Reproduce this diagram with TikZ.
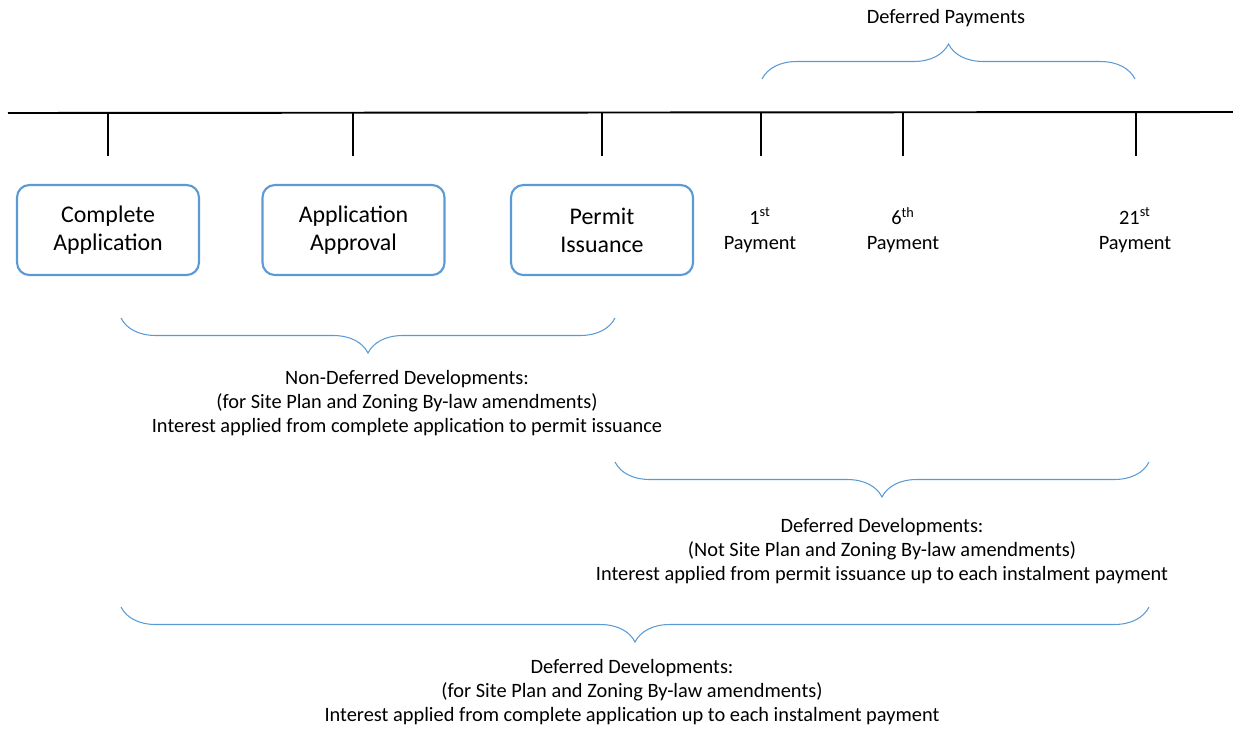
\documentclass[tikz,border=0pt]{standalone}
\usepackage{fontspec}
\setmainfont{Carlito}
\usepackage{tikz}
\usetikzlibrary{positioning, decorations.pathreplacing, arrows.meta}
\definecolor{msblue}{RGB}{91,155,213}

\begin{document}
\begin{tikzpicture}[x=0.02cm, y=-0.02cm,
    box/.style={draw=msblue, line width=1.2pt, rounded corners=7pt, minimum width=3.64cm, minimum height=1.8cm, align=center, font=\fontsize{13.6}{16}\selectfont},
    lbl/.style={align=center, font=\fontsize{11.6}{14}\selectfont},
    note/.style={align=center, font=\fontsize{11.6}{13.6}\selectfont},
    brc/.style={draw=msblue, line width=0.6pt, decorate, decoration={brace, amplitude=0.7cm}},
    tick/.style={line width=1.1pt}]
        \useasboundingbox (0,0) rectangle (1233,731);
        % timeline
        \coordinate (l) at (8,113);
        \coordinate (r) at (1233,112);
        \draw[tick] (l) -- (r);
        \foreach \name/\x in {a/108, b/353, c/602, d/761, e/903, f/1136} {
          \coordinate (\name0) at (\x,112.5);
          \coordinate (\name1) at (\x,156);
          \draw[tick] (\name0) -- (\name1);
        }
        % milestones
        \node[box] (ca) at (108,230) {Complete\\Application};
        \node[box] (aa) at (353.5,230) {Application\\Approval};
        \node[box] (pi) at (602,230) {Permit\\Issuance};
        \node[lbl] (p1) at (760,230) {1\textsuperscript{st}\\Payment};
        \node[lbl] (p6) at (903,230) {6\textsuperscript{th}\\Payment};
        \node[lbl] (p21) at (1135,230) {21\textsuperscript{st}\\Payment};
        % braces
        \coordinate (dp0) at (762,79);
        \coordinate (dp1) at (1135,79);
        \draw[brc] (dp0) -- (dp1);
        \node[lbl] (dp) at (946,18) {Deferred Payments};
        \coordinate (nd0) at (121,318);
        \coordinate (nd1) at (615,318);
        \draw[brc, decoration={mirror}] (nd0) -- (nd1);
        \node[note] (nd) at (407,403) {Non-Deferred Developments:\\(for Site Plan and Zoning By-law amendments)\\Interest applied from complete application to permit issuance};
        \coordinate (dd0) at (615,462);
        \coordinate (dd1) at (1149,462);
        \draw[brc, decoration={mirror}] (dd0) -- (dd1);
        \node[note] (dd) at (882,551) {Deferred Developments:\\(Not Site Plan and Zoning By-law amendments)\\Interest applied from permit issuance up to each instalment payment};
        \coordinate (da0) at (121,607);
        \coordinate (da1) at (1149,607);
        \draw[brc, decoration={mirror}] (da0) -- (da1);
        \node[note] (da) at (632,692) {Deferred Developments:\\(for Site Plan and Zoning By-law amendments)\\Interest applied from complete application up to each instalment payment};
\end{tikzpicture}
\end{document}
